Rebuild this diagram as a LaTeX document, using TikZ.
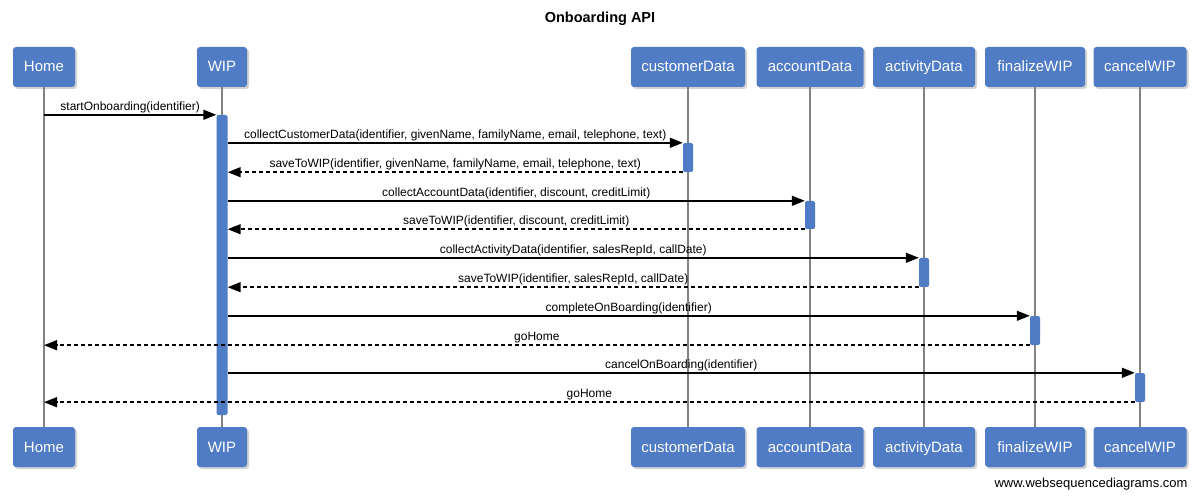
\documentclass[tikz,border=0pt]{standalone}
\usepackage{fontspec}
\setmainfont{Liberation Sans}
\usepackage{xcolor}
\usetikzlibrary{arrows.meta, shadows, positioning}

\definecolor{actorblue}{RGB}{79,124,197}
\definecolor{lifegray}{RGB}{130,130,130}

\begin{document}
\begin{tikzpicture}[
  x=1pt, y=-1pt,
  actor/.style={rectangle, rounded corners=3pt, fill=actorblue, text=white, minimum height=40pt, inner sep=0pt, text height=13pt, text depth=3pt, font=\fontsize{15}{18}\selectfont, drop shadow={shadow xshift=2pt, shadow yshift=-2pt, opacity=0.35}},
  bar/.style={rectangle, rounded corners=2pt, fill=actorblue, inner sep=0pt, minimum width=10pt},
  lifeline/.style={draw=lifegray, line width=1.2pt},
  msg/.style={-{Triangle[length=13pt, width=10pt]}, line width=1.5pt, black},
  reply/.style={msg, dash pattern=on 4pt off 3pt},
  msgtext/.style={font=\fontsize{12}{14}\selectfont, inner sep=1.5pt, text height=9pt, text depth=2.5pt, midway, above},
]

% canvas
\fill[white] (0,0) rectangle (1200,497);
\useasboundingbox (0,0) rectangle (1200,497);

% Title
\node[font=\bfseries\fontsize{14.5}{17}\selectfont] (title) at (600,19) {Onboarding API};

% Participants - top and bottom
\foreach \id/\x/\w/\name in {home/44/62/Home, wip/222/50/WIP, cust/688/114/customerData, acct/810/107/accountData, act/924/102/activityData, fin/1035/100/finalizeWIP, cancel/1140/93/cancelWIP} {
  \node[actor, minimum width=\w pt] (\id-top) at (\x,67) {\name};
  \node[actor, minimum width=\w pt] (\id-bot) at (\x,447) {\name};
  \draw[lifeline] (\id-top.south) -- (\id-bot.north);
}

% Activation bars
\node[bar, minimum width=11pt, minimum height=300pt] (wip-bar) at (222,265) {};
\node[bar, minimum height=29pt] (cust-bar) at (688,157.5) {};
\node[bar, minimum height=28pt] (acct-bar) at (810,215) {};
\node[bar, minimum height=29pt] (act-bar) at (924,272.5) {};
\node[bar, minimum height=29pt] (fin-bar) at (1035,330.5) {};
\node[bar, minimum height=29pt] (cancel-bar) at (1140,387.5) {};

% Messages
\draw[msg] (home-top.south |- wip-bar.north west) -- (wip-bar.north west)
  node[msgtext] {startOnboarding(identifier)};
\draw[msg] (wip-bar.east |- cust-bar.north west) -- (cust-bar.north west)
  node[msgtext] {collectCustomerData(identifier, givenName, familyName, email, telephone, text)};
\draw[reply] (cust-bar.south west) -- (wip-bar.east |- cust-bar.south west)
  node[msgtext] {saveToWIP(identifier, givenName, familyName, email, telephone, text)};
\draw[msg] (wip-bar.east |- acct-bar.north west) -- (acct-bar.north west)
  node[msgtext] {collectAccountData(identifier, discount, creditLimit)};
\draw[reply] (acct-bar.south west) -- (wip-bar.east |- acct-bar.south west)
  node[msgtext] {saveToWIP(identifier, discount, creditLimit)};
\draw[msg] (wip-bar.east |- act-bar.north west) -- (act-bar.north west)
  node[msgtext] {collectActivityData(identifier, salesRepId, callDate)};
\draw[reply] (act-bar.south west) -- (wip-bar.east |- act-bar.south west)
  node[msgtext] {saveToWIP(identifier, salesRepId, callDate)};
\draw[msg] (wip-bar.east |- fin-bar.north west) -- (fin-bar.north west)
  node[msgtext] {completeOnBoarding(identifier)};
\draw[reply] (fin-bar.south west) -- (home-top.south |- fin-bar.south west)
  node[msgtext] {goHome};
\draw[msg] (wip-bar.east |- cancel-bar.north west) -- (cancel-bar.north west)
  node[msgtext] {cancelOnBoarding(identifier)};
\draw[reply] (cancel-bar.south west) -- (home-top.south |- cancel-bar.south west)
  node[msgtext] {goHome};

% Credit
\node[anchor=east, font=\fontsize{13}{15}\selectfont] (credit) at (1191,484) {www.websequencediagrams.com};

\end{tikzpicture}
\end{document}
